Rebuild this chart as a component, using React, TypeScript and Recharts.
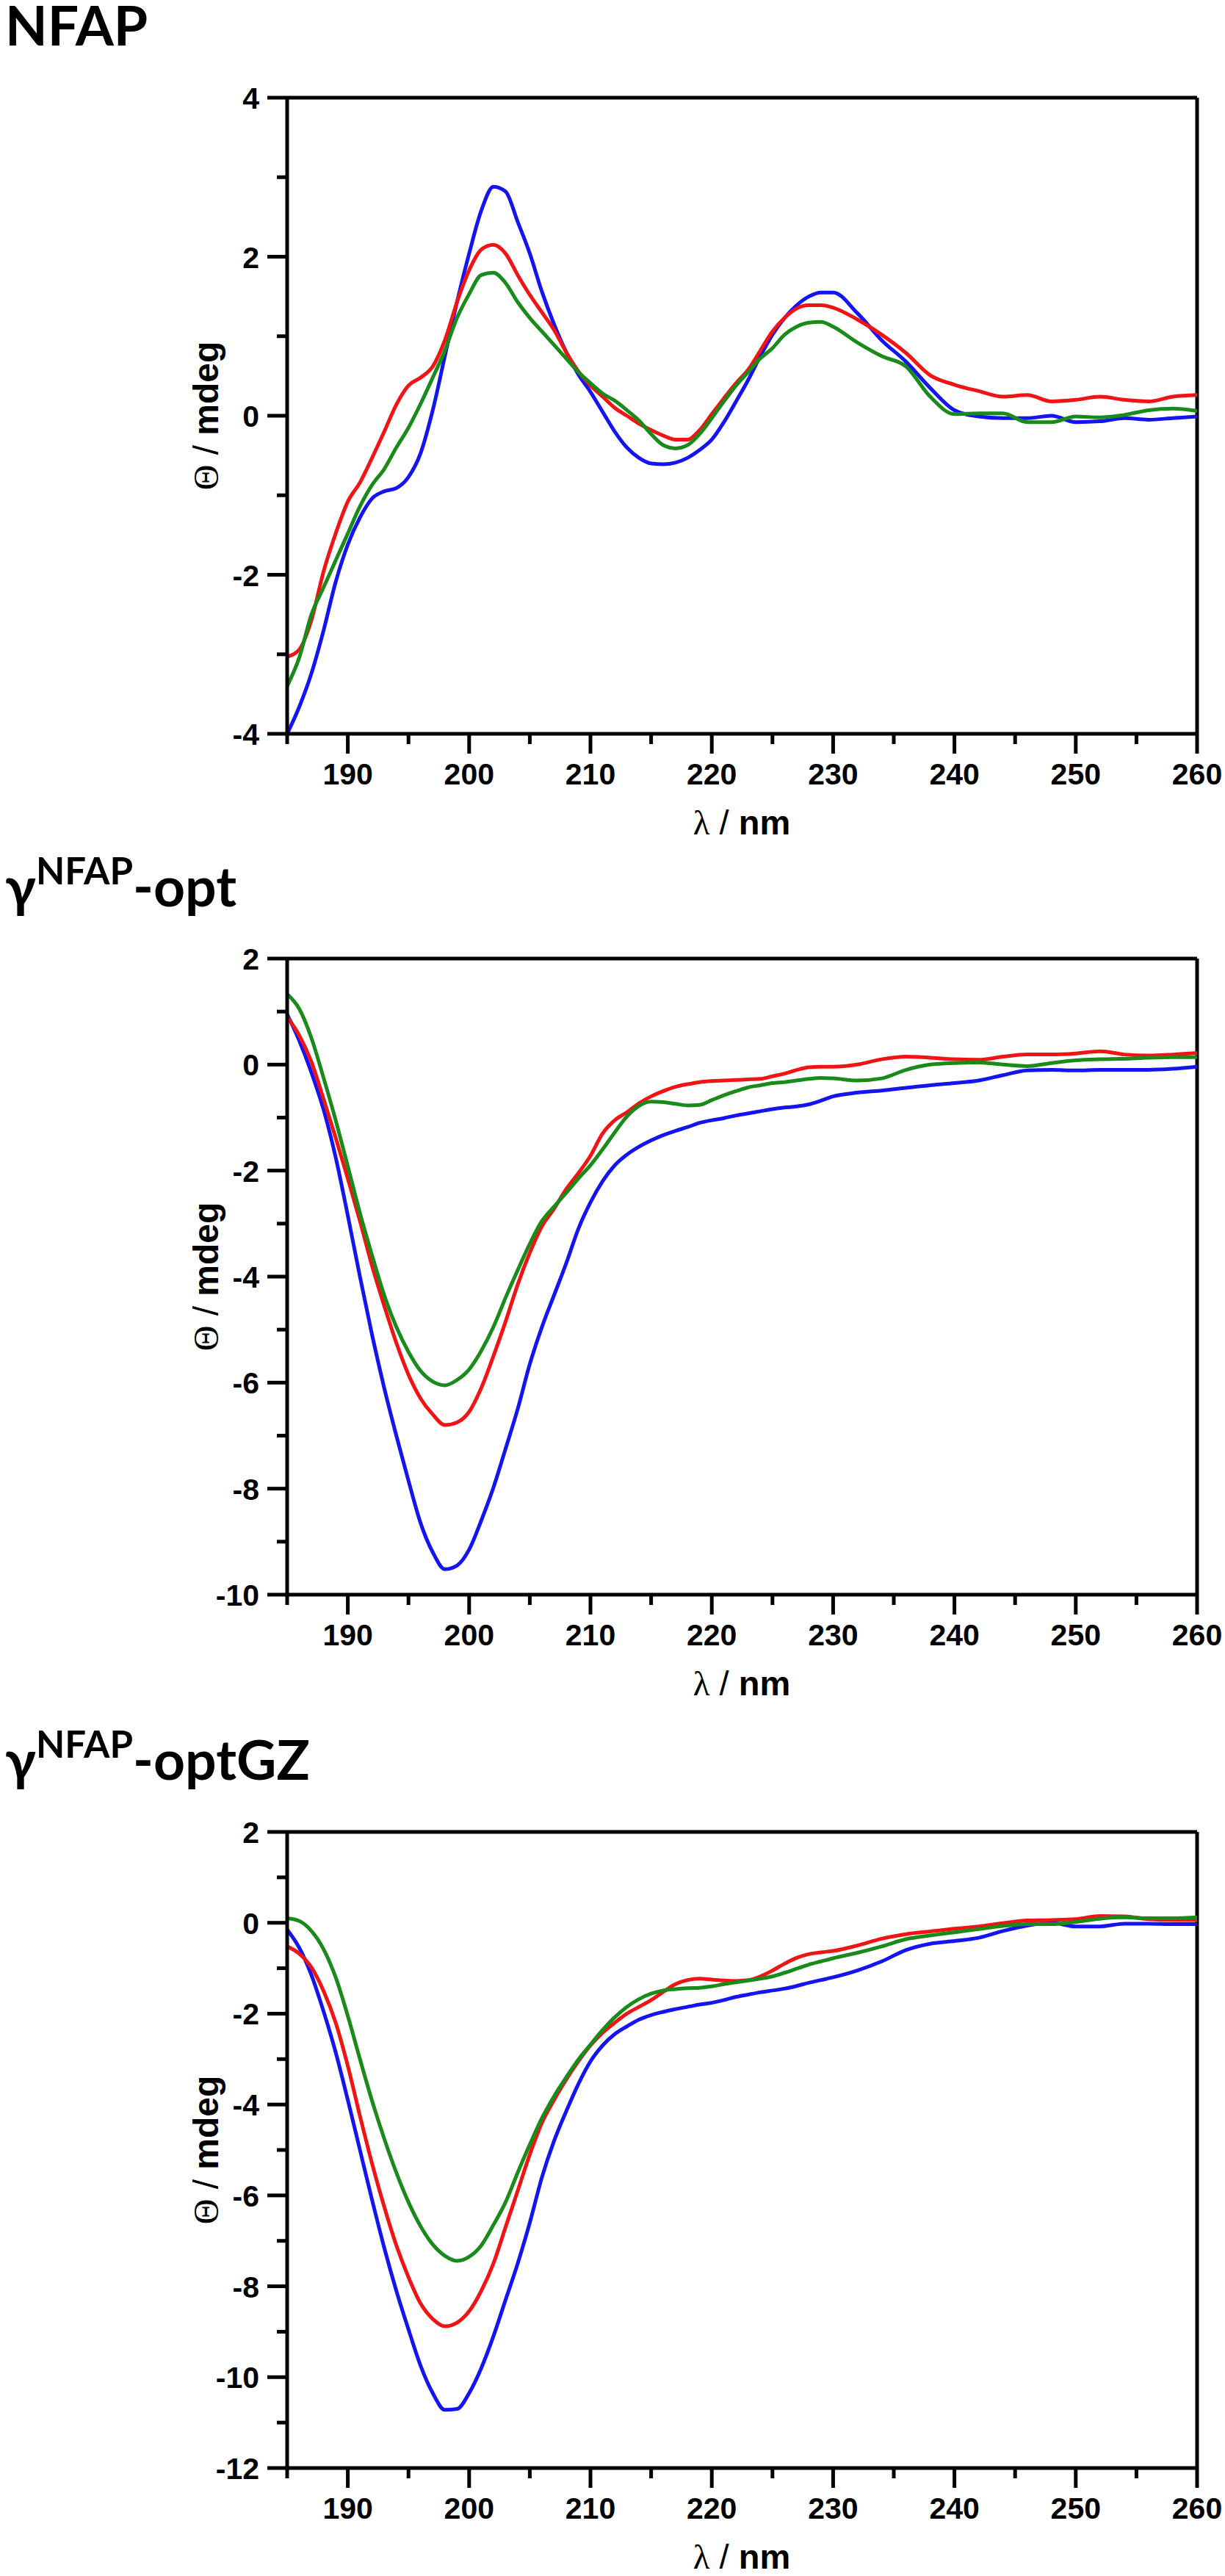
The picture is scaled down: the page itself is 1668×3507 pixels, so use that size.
import { Line, LineChart, ReferenceLine, XAxis, YAxis } from "recharts";

// wavelength grid (nm): 1 nm steps up to 230, then 2 nm steps
const WL = [
  185, 186, 187, 188, 189, 190, 191, 192, 193, 194, 195, 196, 197, 198, 199, 200,
  201, 202, 203, 204, 205, 206, 207, 208, 209, 210, 211, 212, 213, 214, 215, 216,
  217, 218, 219, 220, 221, 222, 223, 224, 225, 226, 227, 228, 229, 230,
  232, 234, 236, 238, 240, 242, 244, 246, 248, 250, 252, 254, 256, 258, 260,
];

// NFAP
const NFAP_BLUE = [
  -4.0, -3.66, -3.24, -2.7, -2.09, -1.62, -1.28, -1.04, -0.95, -0.91, -0.77, -0.47, 0.07, 0.75, 1.43, 2.04,
  2.58, 2.88, 2.82, 2.44, 2.04, 1.56, 1.15, 0.8, 0.52, 0.3, 0.05, -0.2, -0.4, -0.53, -0.6, -0.61,
  -0.59, -0.53, -0.43, -0.3, -0.08, 0.18, 0.45, 0.75, 1.02, 1.23, 1.39, 1.5, 1.55, 1.55,
  1.29, 0.95, 0.68, 0.35, 0.07, -0.01, -0.03, -0.03, 0.0, -0.08, -0.07, -0.03, -0.05, -0.03, -0.01,
];
const NFAP_RED = [
  -3.03, -2.94, -2.57, -1.96, -1.48, -1.08, -0.84, -0.53, -0.2, 0.14, 0.38, 0.48, 0.62, 0.95, 1.43, 1.83,
  2.09, 2.15, 2.04, 1.77, 1.52, 1.3, 1.08, 0.8, 0.56, 0.38, 0.24, 0.1, 0.0, -0.1, -0.18, -0.25,
  -0.3, -0.3, -0.18, 0.02, 0.22, 0.41, 0.58, 0.82, 1.06, 1.23, 1.35, 1.39, 1.39, 1.36,
  1.21, 1.02, 0.79, 0.51, 0.39, 0.31, 0.24, 0.26, 0.18, 0.2, 0.24, 0.2, 0.18, 0.24, 0.26,
];
const NFAP_GREEN = [
  -3.4, -3.04, -2.5, -2.16, -1.82, -1.48, -1.14, -0.87, -0.67, -0.4, -0.15, 0.15, 0.48, 0.82, 1.23, 1.53,
  1.77, 1.8, 1.67, 1.43, 1.23, 1.06, 0.89, 0.72, 0.55, 0.41, 0.28, 0.19, 0.07, -0.06, -0.23, -0.37,
  -0.41, -0.37, -0.23, -0.03, 0.18, 0.38, 0.55, 0.72, 0.85, 1.02, 1.12, 1.17, 1.18, 1.12,
  0.92, 0.75, 0.62, 0.24, 0.02, 0.03, 0.03, -0.08, -0.08, -0.01, -0.02, 0.01, 0.07, 0.09, 0.06,
];

// γNFAP-opt
const OPT_BLUE = [
  0.95, 0.45, -0.15, -0.85, -1.75, -2.85, -4.0, -5.1, -6.1, -7.0, -7.85, -8.65, -9.2, -9.52, -9.45, -9.15,
  -8.6, -7.98, -7.25, -6.5, -5.65, -4.95, -4.35, -3.75, -3.1, -2.6, -2.2, -1.9, -1.7, -1.55, -1.43, -1.33,
  -1.25, -1.18, -1.1, -1.05, -1.01, -0.96, -0.92, -0.88, -0.84, -0.81, -0.79, -0.75, -0.68, -0.6,
  -0.53, -0.49, -0.44, -0.39, -0.35, -0.3, -0.2, -0.11, -0.1, -0.11, -0.1, -0.1, -0.1, -0.08, -0.04,
];
const OPT_RED = [
  0.9, 0.55, 0.05, -0.65, -1.38, -2.15, -2.95, -3.8, -4.55, -5.25, -5.85, -6.3, -6.6, -6.8, -6.75, -6.55,
  -6.1, -5.5, -4.85, -4.15, -3.55, -3.05, -2.72, -2.35, -2.05, -1.72, -1.3, -1.05, -0.9, -0.73, -0.6, -0.5,
  -0.42, -0.37, -0.33, -0.31, -0.3, -0.29, -0.28, -0.27, -0.22, -0.17, -0.1, -0.05, -0.04, -0.04,
  0.0, 0.1, 0.15, 0.13, 0.1, 0.09, 0.15, 0.19, 0.19, 0.21, 0.25, 0.19, 0.17, 0.19, 0.22,
];
const OPT_GREEN = [
  1.33, 1.05, 0.5, -0.25, -1.05, -1.92, -2.8, -3.6, -4.35, -4.95, -5.42, -5.78, -5.98, -6.05, -5.95, -5.75,
  -5.4, -4.95, -4.4, -3.88, -3.38, -2.95, -2.68, -2.42, -2.15, -1.9, -1.6, -1.28, -0.98, -0.78, -0.7, -0.71,
  -0.74, -0.77, -0.76, -0.67, -0.58, -0.5, -0.43, -0.39, -0.35, -0.33, -0.3, -0.27, -0.25, -0.26,
  -0.3, -0.26, -0.1, 0.0, 0.03, 0.04, 0.0, -0.03, 0.03, 0.08, 0.1, 0.11, 0.13, 0.14, 0.14,
];

// γNFAP-optGZ
const GZ_BLUE = [
  -0.15, -0.55, -1.15, -1.95, -2.85, -3.9, -5.0, -6.1, -7.15, -8.1, -8.95, -9.75, -10.35, -10.72, -10.7, -10.35,
  -9.8, -9.1, -8.3, -7.5, -6.6, -5.6, -4.8, -4.15, -3.55, -3.05, -2.7, -2.45, -2.28, -2.13, -2.03, -1.96,
  -1.9, -1.85, -1.8, -1.76, -1.7, -1.63, -1.58, -1.53, -1.49, -1.45, -1.39, -1.32, -1.26, -1.2,
  -1.05, -0.85, -0.6, -0.46, -0.4, -0.33, -0.18, -0.06, 0.0, -0.08, -0.08, -0.02, -0.02, -0.03, -0.03,
];
const GZ_RED = [
  -0.52, -0.68, -0.98, -1.5, -2.2, -3.15, -4.25, -5.3, -6.25, -7.1, -7.8, -8.38, -8.72, -8.88, -8.8, -8.55,
  -8.1, -7.5, -6.7, -5.9, -5.1, -4.4, -3.9, -3.45, -3.05, -2.7, -2.42, -2.2, -2.0, -1.85, -1.7, -1.52,
  -1.35, -1.26, -1.23, -1.25, -1.27, -1.28, -1.26, -1.18, -1.05, -0.9, -0.77, -0.69, -0.65, -0.62,
  -0.5, -0.35, -0.25, -0.19, -0.13, -0.08, -0.01, 0.05, 0.06, 0.08, 0.15, 0.14, 0.08, 0.06, 0.06,
];
const GZ_GREEN = [
  0.1, 0.04, -0.18, -0.58, -1.2, -2.05, -3.0, -3.92, -4.75, -5.5, -6.15, -6.68, -7.08, -7.33, -7.44, -7.35,
  -7.1, -6.65, -6.15, -5.5, -4.88, -4.3, -3.82, -3.4, -3.01, -2.68, -2.36, -2.08, -1.85, -1.68, -1.56, -1.49,
  -1.46, -1.44, -1.43, -1.4, -1.35, -1.31, -1.27, -1.23, -1.18, -1.1, -1.01, -0.92, -0.85, -0.78,
  -0.66, -0.52, -0.36, -0.28, -0.21, -0.14, -0.07, -0.03, -0.03, 0.02, 0.09, 0.12, 0.1, 0.1, 0.12,
];

const X_TICKS = [185, 190, 195, 200, 205, 210, 215, 220, 225, 230, 235, 240, 245, 250, 255, 260];
const NFAP_Y_TICKS = [-4, -3, -2, -1, 0, 1, 2, 3, 4];
const OPT_Y_TICKS = [-10, -9, -8, -7, -6, -5, -4, -3, -2, -1, 0, 1, 2];
const GZ_Y_TICKS = [-12, -11, -10, -9, -8, -7, -6, -5, -4, -3, -2, -1, 0, 1, 2];

const SANS = '"Liberation Sans", Arial, sans-serif';
const SERIF = '"Liberation Serif", "DejaVu Serif", serif';
const TITLE_FONT = 'Lato, "Open Sans", sans-serif';

const BLUE = "#1414f0";
const RED = "#f01414";
const GREEN = "#1a8a1a";

const W = 1668;
const H = 1146;

function XTick(props: any) {
  const { x, y, payload } = props;
  const v = payload.value;
  const major = v % 10 === 0;
  return (
    <g>
      <line x1={x} x2={x} y1={y} y2={y + (major ? 27 : 14)} stroke="#000" strokeWidth={5} />
      {major && (
        <text x={x} y={y + 69} textAnchor="middle" fontFamily={SANS} fontWeight="bold" fontSize={41} fill="#000">
          {v}
        </text>
      )}
    </g>
  );
}

function YTick(props: any) {
  const { x, y, payload } = props;
  const v = payload.value;
  const major = v % 2 === 0;
  return (
    <g>
      <line x1={x - (major ? 27 : 14)} x2={x} y1={y} y2={y} stroke="#000" strokeWidth={5} />
      {major && (
        <text x={x - 38} y={y + 15} textAnchor="end" fontFamily={SANS} fontWeight="bold" fontSize={41} fill="#000">
          {v}
        </text>
      )}
    </g>
  );
}

interface PanelProps {
  top: number;
  title: string;
  sup?: string;
  suffix?: string;
  blue: number[];
  red: number[];
  green: number[];
  yTicks: number[];
}

function Panel({ top, title, sup, suffix, blue, red, green, yTicks }: PanelProps) {
  const rows = WL.map((x, i) => ({ x, blue: blue[i], red: red[i], green: green[i] }));
  const yMin = yTicks[0];
  const yMax = yTicks[yTicks.length - 1];

  return (
    <div style={{ position: "absolute", left: 0, top, width: W, height: H }}>
      <LineChart width={W} height={H} data={rows} margin={{ top: 133, right: 38, bottom: 7, left: 271 }}>
        <XAxis
          dataKey="x"
          type="number"
          domain={[185, 260]}
          ticks={X_TICKS}
          interval={0}
          height={140}
          tickSize={0}
          tickMargin={0}
          tickLine={false}
          tick={XTick}
          axisLine={{ stroke: "#000", strokeWidth: 5 }}
          allowDataOverflow
        />
        <YAxis
          type="number"
          domain={[yMin, yMax]}
          ticks={yTicks}
          interval={0}
          width={120}
          tickSize={0}
          tickMargin={0}
          tickLine={false}
          tick={YTick}
          axisLine={{ stroke: "#000", strokeWidth: 5 }}
          allowDataOverflow
        />
        {/* top and right frame */}
        <ReferenceLine y={yMax} stroke="#000" strokeWidth={5} />
        <ReferenceLine x={260} stroke="#000" strokeWidth={5} />
        <Line type="monotone" dataKey="blue" stroke={BLUE} strokeWidth={5} dot={false} isAnimationActive={false} />
        <Line type="monotone" dataKey="red" stroke={RED} strokeWidth={5} dot={false} isAnimationActive={false} />
        <Line type="monotone" dataKey="green" stroke={GREEN} strokeWidth={5} dot={false} isAnimationActive={false} />
      </LineChart>

      {/* titles sit a few px above the panel box, labels a few px below: keep overflow visible */}
      <svg
        width={W}
        height={H + 40}
        viewBox={`0 -20 ${W} ${H + 40}`}
        style={{ position: "absolute", left: 0, top: -20, pointerEvents: "none", overflow: "visible" }}
      >
        <text x={7} y={62} fontFamily={TITLE_FONT} fontWeight="bold" fontSize={75} fill="#000">
          {title}
          {sup && (
            <tspan fontSize={51} dy={-30}>
              {sup}
            </tspan>
          )}
          {suffix && (
            <tspan fontSize={75} dy={30}>
              {suffix}
            </tspan>
          )}
        </text>

        {/* x axis title */}
        <text x={1010} y={1136} textAnchor="middle" fontSize={47} fill="#000">
          <tspan fontFamily={SERIF}>λ</tspan>
          <tspan fontFamily={SANS}> / </tspan>
          <tspan fontFamily={SANS} fontWeight="bold">nm</tspan>
        </text>

        {/* y axis title */}
        <text x={297} y={566} transform="rotate(-90 297 566)" textAnchor="middle" fontSize={48} fill="#000">
          <tspan fontFamily={SERIF}>Θ</tspan>
          <tspan fontFamily={SANS}> / </tspan>
          <tspan fontFamily={SANS} fontWeight="bold">mdeg</tspan>
        </text>
      </svg>
    </div>
  );
}

export default function App() {
  return (
    <div style={{ position: "absolute", left: 0, top: 0, width: W, height: 3507, background: "#fff", overflow: "hidden" }}>
      <Panel top={0} title="NFAP" blue={NFAP_BLUE} red={NFAP_RED} green={NFAP_GREEN} yTicks={NFAP_Y_TICKS} />
      <Panel
        top={1172}
        title="γ"
        sup="NFAP"
        suffix="-opt"
        blue={OPT_BLUE}
        red={OPT_RED}
        green={OPT_GREEN}
        yTicks={OPT_Y_TICKS}
      />
      <Panel
        top={2361}
        title="γ"
        sup="NFAP"
        suffix="-optGZ"
        blue={GZ_BLUE}
        red={GZ_RED}
        green={GZ_GREEN}
        yTicks={GZ_Y_TICKS}
      />
    </div>
  );
}
